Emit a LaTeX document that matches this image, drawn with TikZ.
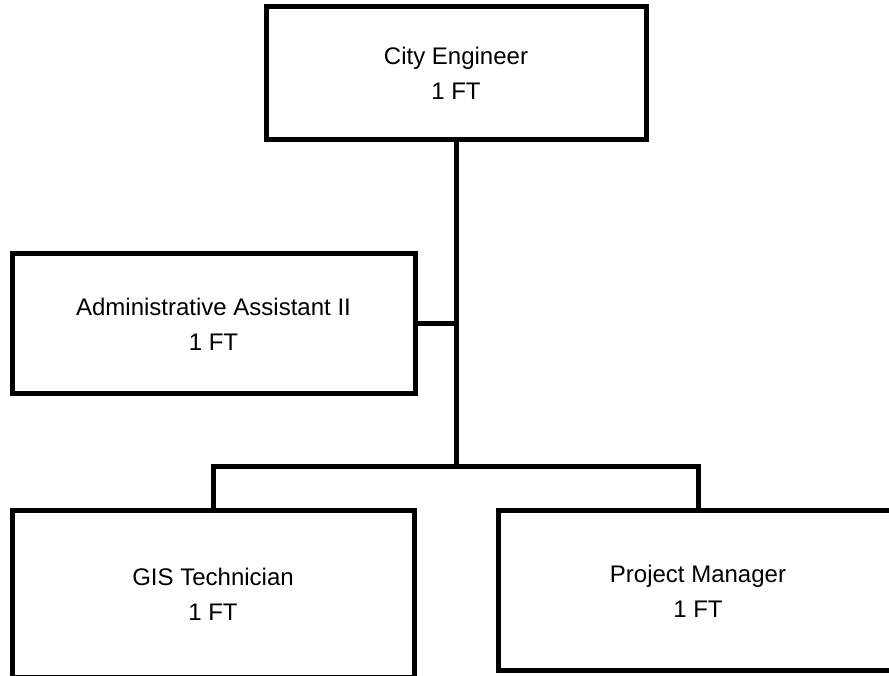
\documentclass[tikz,border=0pt]{standalone}
\usepackage{fontspec}
\setmainfont{Liberation Sans}
\begin{document}
\begin{tikzpicture}[x=1pt,y=1pt,
  orgbox/.style={draw=black, line width=5pt, fill=white, inner sep=0pt,
    align=center, font=\fontsize{24}{35}\selectfont},
  link/.style={draw=black, line width=5pt}]
  \useasboundingbox (0,0) rectangle (889,676);
  \clip (0,0) rectangle (889,676);

  % positions
  \node[orgbox, minimum width=380pt, minimum height=133pt] (ce) at (456,603)
    {City Engineer\\1 FT};
  \node[orgbox, minimum width=403pt, minimum height=140pt] (aa) at (213.5,352)
    {Administrative Assistant II\\1 FT};
  \node[orgbox, minimum width=402pt, minimum height=167pt] (gis) at (213,81.5)
    {GIS Technician\\1 FT};
  \node[orgbox, minimum width=400pt, minimum height=160pt] (pm) at (698,85)
    {Project Manager\\1 FT};

  \coordinate (bus) at (456,209);

  % reporting lines
  \draw[link] (ce.south) -- (bus);
  \draw[link] (aa.east) -- (aa.east -| bus);
  \draw[link] (gis.north) |- (bus) -| (pm.north);
\end{tikzpicture}
\end{document}
